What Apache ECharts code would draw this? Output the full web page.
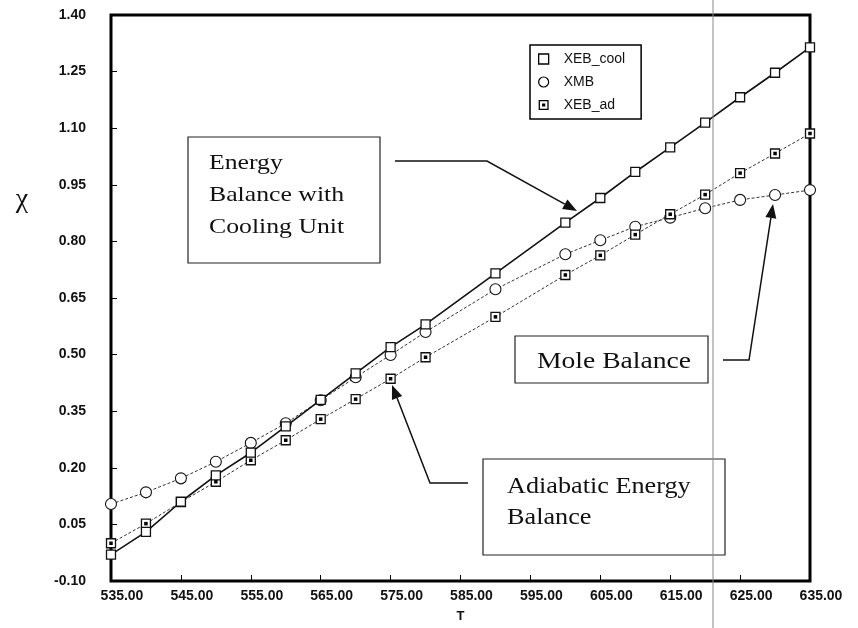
<!DOCTYPE html>
<html>
<head>
<meta charset="utf-8">
<script src="https://cdn.jsdelivr.net/npm/echarts@6/dist/echarts.min.js"></script>
<style>html,body{margin:0;padding:0;background:#fff}#c{width:858px;height:628px}</style>
</head>
<body>
<div id="c"></div>
<script>
// ---- data ----
var temps = [535, 540, 545, 550, 555, 560, 565, 570, 575, 580, 590, 600, 605, 610, 615, 620, 625, 630, 635];
var xebCool = [-0.03, 0.03, 0.11, 0.18, 0.24, 0.31, 0.38, 0.45, 0.52, 0.58, 0.715, 0.85, 0.915, 0.984, 1.049, 1.115, 1.182, 1.247, 1.314];
var xmb = [0.104, 0.135, 0.172, 0.216, 0.266, 0.318, 0.379, 0.44, 0.499, 0.56, 0.673, 0.766, 0.803, 0.839, 0.863, 0.888, 0.91, 0.923, 0.936];
var xebAd = [0.0, 0.052, 0.109, 0.163, 0.22, 0.273, 0.329, 0.382, 0.436, 0.493, 0.60, 0.711, 0.763, 0.818, 0.872, 0.924, 0.981, 1.033, 1.086];
var xTicks = [535, 545, 555, 565, 575, 585, 595, 605, 615, 625, 635];
var yTicks = [-0.10, 0.05, 0.20, 0.35, 0.50, 0.65, 0.80, 0.95, 1.10, 1.25, 1.40];
var seriesNames = ['XEB_cool', 'XMB', 'XEB_ad'];
var annEnergy = 'Energy\nBalance with\nCooling Unit';
var annMole = 'Mole Balance';
var annAdiab = 'Adiabatic Energy\nBalance';

function pairs(ys) { return temps.map(function (t, i) { return [t, ys[i]]; }); }

function arrow(pts) {
  var n = pts.length, tip = pts[n - 1], prev = pts[n - 2];
  var dx = tip[0] - prev[0], dy = tip[1] - prev[1], L = Math.sqrt(dx * dx + dy * dy);
  var ux = dx / L, uy = dy / L, hl = 14, hw = 5.5;
  var bx = tip[0] - ux * hl, by = tip[1] - uy * hl;
  var line = pts.slice(0, n - 1).concat([[bx, by]]);
  return [
    { type: 'polyline', shape: { points: line }, style: { stroke: '#111', lineWidth: 1.5, fill: null }, z: 20 },
    { type: 'polygon', shape: { points: [tip, [bx - uy * hw, by + ux * hw], [bx + uy * hw, by - ux * hw]] }, style: { fill: '#111' }, z: 20 }
  ];
}

var serif = '"Liberation Serif", "Times New Roman", serif';
var graphics = [
  { type: 'line', shape: { x1: 713, y1: 0, x2: 713, y2: 628 }, style: { stroke: '#888', lineWidth: 1 }, z: 30 },
  { type: 'text', x: 22, y: 200, style: { text: 'χ', fontSize: 28, fontFamily: serif, fill: '#111', align: 'center', verticalAlign: 'middle' }, z: 20 },
  { type: 'rect', shape: { x: 188, y: 137, width: 192, height: 126 }, style: { fill: '#fff', stroke: '#222', lineWidth: 1.2 }, z: 15 },
  { type: 'text', x: 209, y: 147, scaleX: 1.17, style: { text: annEnergy, fontSize: 22, lineHeight: 32, fontFamily: serif, fill: '#111', verticalAlign: 'top' }, z: 16 },
  { type: 'rect', shape: { x: 515, y: 336, width: 193, height: 47 }, style: { fill: '#fff', stroke: '#222', lineWidth: 1.2 }, z: 15 },
  { type: 'text', x: 537, y: 362, scaleX: 1.2, style: { text: annMole, fontSize: 23, fontFamily: serif, fill: '#111', verticalAlign: 'middle' }, z: 16 },
  { type: 'rect', shape: { x: 483, y: 459, width: 242, height: 96 }, style: { fill: '#fff', stroke: '#222', lineWidth: 1.2 }, z: 15 },
  { type: 'text', x: 507, y: 471, scaleX: 1.14, style: { text: annAdiab, fontSize: 23, lineHeight: 31, fontFamily: serif, fill: '#111', verticalAlign: 'top' }, z: 16 }
].concat(arrow([[395, 161], [487, 161], [577, 211]]))
 .concat(arrow([[723, 360], [749, 360], [773, 204]]))
 .concat(arrow([[468, 483], [430, 483], [392, 385]]));

var sans = '"Liberation Sans", Arial, sans-serif';
var chart = echarts.init(document.getElementById('c'), null, { renderer: 'canvas' });
chart.setOption({
  backgroundColor: '#fff',
  animation: false,
  grid: { left: 111, right: 48, top: 15, bottom: 40, show: true, borderColor: '#000', borderWidth: 3, backgroundColor: 'transparent' },
  xAxis: {
    type: 'value', min: 535, max: 635,
    name: 'T', nameLocation: 'middle', nameGap: 29,
    nameTextStyle: { fontFamily: sans, fontSize: 13, fontWeight: 'bold', color: '#111' },
    axisLine: { show: false, onZero: false },
    axisTick: { show: true, inside: true, length: 6, customValues: xTicks, lineStyle: { color: '#000' } },
    axisLabel: { customValues: xTicks, margin: 8, padding: [0, 0, 0, 22], fontFamily: sans, fontSize: 14, fontWeight: 'bold', color: '#111',
      formatter: function (v) { return v.toFixed(2); } },
    splitLine: { show: false }
  },
  yAxis: {
    type: 'value', min: -0.10, max: 1.40,
    axisLine: { show: false, onZero: false },
    axisTick: { show: true, inside: true, length: 6, customValues: yTicks, lineStyle: { color: '#000' } },
    axisLabel: { customValues: yTicks, margin: 25, fontFamily: sans, fontSize: 14, fontWeight: 'bold', color: '#111',
      formatter: function (v) { return v.toFixed(2); } },
    splitLine: { show: false }
  },
  legend: {
    orient: 'vertical', left: 530, top: 45,
    padding: [7, 16, 7, 8], itemWidth: 10, itemHeight: 10, itemGap: 9,
    borderColor: '#000', borderWidth: 1.5, backgroundColor: '#fff',
    textStyle: { fontFamily: sans, fontSize: 14, color: '#111', padding: [0, 0, 0, 10] },
    data: [
      { name: seriesNames[0], icon: 'rect', itemStyle: { color: '#fff', borderColor: '#000', borderWidth: 1.3 } },
      { name: seriesNames[1], icon: 'circle', itemStyle: { color: '#fff', borderColor: '#000', borderWidth: 1.2 } },
      { name: seriesNames[2], icon: 'path://M0,0L10,0L10,10L0,10Z M1.3,1.3L1.3,8.7L8.7,8.7L8.7,1.3Z M3.4,3.4L6.6,3.4L6.6,6.6L3.4,6.6Z', itemStyle: { color: '#000', borderWidth: 0 } }
    ]
  },
  graphic: graphics,
  series: [
    { name: seriesNames[1], type: 'line', data: pairs(xmb), symbol: 'circle', symbolSize: 11,
      lineStyle: { color: '#333', width: 1, type: [3, 2] }, itemStyle: { color: '#fff', borderColor: '#111', borderWidth: 1.1 }, z: 3 },
    { name: seriesNames[2], type: 'line', data: pairs(xebAd), symbol: 'rect', symbolSize: 9,
      lineStyle: { color: '#333', width: 1, type: [3, 2] }, itemStyle: { color: '#fff', borderColor: '#111', borderWidth: 1.3 }, z: 4 },
    { name: 'XEB_ad_dot', type: 'line', data: pairs(xebAd), symbol: 'rect', symbolSize: 3.5,
      lineStyle: { width: 0, opacity: 0 }, itemStyle: { color: '#000' }, z: 5, silent: true },
    { name: seriesNames[0], type: 'line', data: pairs(xebCool), symbol: 'rect', symbolSize: 9,
      lineStyle: { color: '#111', width: 1.6 }, itemStyle: { color: '#fff', borderColor: '#111', borderWidth: 1.3 }, z: 6 }
  ]
});
</script>
</body>
</html>
